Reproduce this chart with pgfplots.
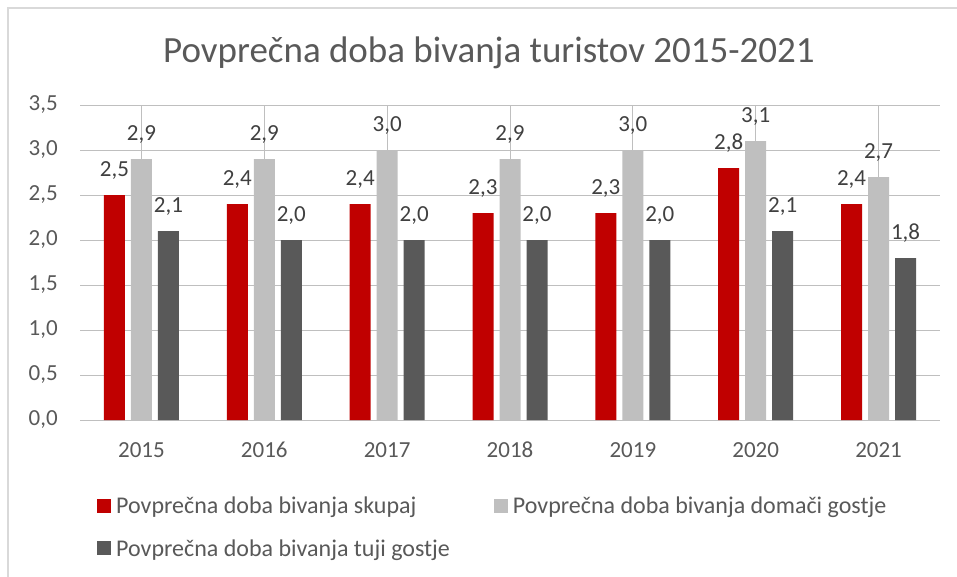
\documentclass[border=0pt]{standalone}
\usepackage{pgfplots}
\pgfplotsset{compat=1.18}
\usepackage{fontspec}
\setmainfont{Carlito}

\definecolor{cRed}{HTML}{C00000}
\definecolor{cLight}{HTML}{BFBFBF}
\definecolor{cDark}{HTML}{595959}
\definecolor{txt}{HTML}{595959}
\definecolor{lbl}{HTML}{404040}
\definecolor{grid}{HTML}{D9D9D9}

\begin{document}
\begin{tikzpicture}
\useasboundingbox (-80pt,-156pt) rectangle (877pt,420pt);
\draw[grid, line width=1.5pt] (-72pt,-160pt) -- (-72pt,412pt) -- (880pt,412pt);
\node[anchor=base, text=txt, font=\fontsize{37}{44}\selectfont] at (409pt,357pt) {Povprečna doba bivanja turistov 2015-2021};
\begin{axis}[
    scale only axis,
    width=860pt, height=315pt,
    ybar=6pt, bar width=21pt,
    xmin=-0.5, xmax=6.5,
    ymin=0, ymax=3.5,
    xtick=data,
    xticklabels={2015,2016,2017,2018,2019,2020,2021},
    ytick={0,0.5,...,3.5},
    axis line style={draw=none},
    ymajorgrids, grid style={grid, line width=1pt},
    major tick length=0pt,
    tick label style={text=txt, font=\fontsize{23}{27}\selectfont, inner sep=0pt},
    yticklabel style={xshift=-22pt},
    xticklabel style={yshift=-22pt},
    /pgf/number format/.cd, use comma, fixed, fixed zerofill, precision=1, assume math mode=true,
    /pgfplots/.cd,
    nodes near coords,
    nodes near coords style={anchor=base, inner sep=0pt, yshift=19pt, text=lbl, font=\fontsize{23}{27}\selectfont,
        /pgf/number format/.cd, use comma, fixed, fixed zerofill, precision=1, assume math mode=true},
    legend columns=2,
    legend cell align=left,
    legend style={at={(axis description cs:0.0198,-0.238)}, anchor=north west, draw=none, inner sep=0pt,
        font=\fontsize{24}{28}\selectfont, text=txt, row sep=20pt,
        /tikz/column 1/.style={column sep=3pt},
        /tikz/column 3/.style={column sep=3pt},
        /tikz/column 2/.style={column sep=42pt}},
    legend image code/.code={\fill[#1] (0pt,-7pt) rectangle (14pt,7pt);},
]
\addplot[fill=cRed, draw=none] coordinates {(0,2.5) (1,2.4) (2,2.4) (3,2.3) (4,2.3) (5,2.8) (6,2.4)};
\addplot[fill=cLight, draw=none] coordinates {(0,2.9) (1,2.9) (2,3.0) (3,2.9) (4,3.0) (5,3.1) (6,2.7)};
\addplot[fill=cDark, draw=none] coordinates {(0,2.1) (1,2.0) (2,2.0) (3,2.0) (4,2.0) (5,2.1) (6,1.8)};
\legend{Povprečna doba bivanja skupaj, Povprečna doba bivanja domači gostje, Povprečna doba bivanja tuji gostje}
\end{axis}
\end{tikzpicture}
\end{document}
